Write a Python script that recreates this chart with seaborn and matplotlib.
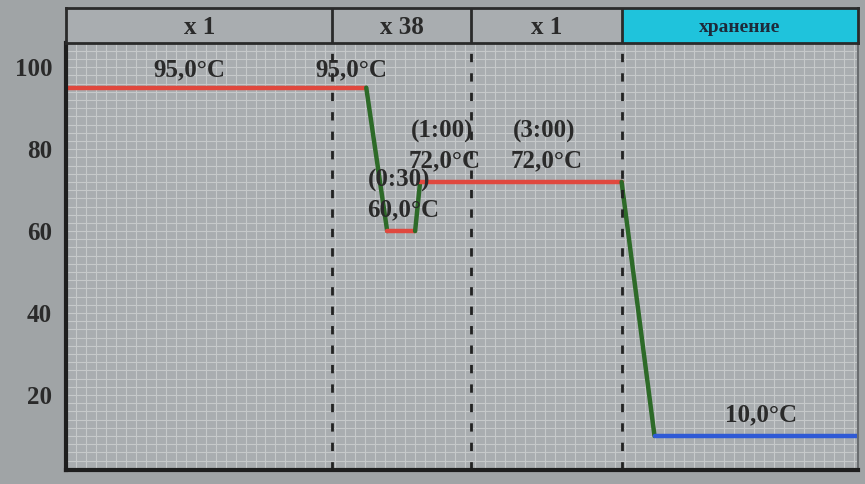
import pandas as pd
import matplotlib.pyplot as plt
import seaborn as sns
from matplotlib.ticker import MultipleLocator

# PCR program profile: x = position on the program timeline, y = temperature (°C)
seg_names = ["hold1", "ramp1", "hold2", "ramp2", "hold3", "ramp3", "hold4"]
seg_x = [[0, 301], [301, 322], [322, 350], [350, 355], [355, 557], [557, 590], [590, 794]]
seg_y = [[95, 95], [95, 60], [60, 60], [60, 72], [72, 72], [72, 10], [10, 10]]
seg_colors = ["#e0483e", "#2d6a28", "#e0483e", "#2d6a28", "#e0483e", "#2d6a28", "#2f5ad6"]

stage_edges = [0, 267, 406, 557, 794]
stage_labels = ["x 1", "x 38", "x 1", "хранение"]

temp_labels = ["95,0°C", "95,0°C", "60,0°C", "72,0°C", "72,0°C", "10,0°C"]
temp_x = [124, 286, 338, 380, 482, 697]
temp_y = [95, 95, 60, 72, 72, 10]
time_labels = ["(0:30)", "(1:00)", "(3:00)"]
time_x = [334, 377, 479]
time_y = [60, 72, 72]

yticks = [20, 40, 60, 80, 100]

rows = []
for name, xs, ys in zip(seg_names, seg_x, seg_y):
    for x, y in zip(xs, ys):
        rows.append({"seg": name, "x": x, "y": y})
df = pd.DataFrame(rows)

sns.set_style("white")
plt.rcParams["font.family"] = ["Liberation Serif", "DejaVu Serif"]
plt.rcParams["font.weight"] = "bold"

fig = plt.figure(figsize=(8.65, 4.84), dpi=100, facecolor="#a0a4a6")
left, width = 66 / 865, (858 - 66) / 865
ax = fig.add_axes([left, 1 - 470 / 484, width, (470 - 43) / 484])
axh = fig.add_axes([left, 1 - 43 / 484, width, 35 / 484])

ax.set_facecolor("#a9adb0")
sns.lineplot(data=df, x="x", y="y", hue="seg", palette=dict(zip(seg_names, seg_colors)),
             sort=False, estimator=None, legend=False, linewidth=3.2, ax=ax)

ax.set_xlim(0, 794)
ax.set_ylim(1.7, 105.9)
ax.xaxis.set_minor_locator(MultipleLocator(10))
ax.yaxis.set_minor_locator(MultipleLocator(2))
ax.grid(which="both", color="#c6c9ca", linewidth=0.8)
ax.set_axisbelow(True)
ax.set_xticks([])
ax.set_yticks(yticks)
ax.set_yticklabels([str(t) for t in yticks], fontsize=18, fontweight="bold", color="#2a2a2a")
ax.tick_params(axis="y", which="major", length=4, width=1, color="#555555", pad=6)
ax.tick_params(axis="y", which="minor", length=0)
ax.set_xlabel("")
ax.set_ylabel("")
for s in ["left", "bottom"]:
    ax.spines[s].set_linewidth(3)
    ax.spines[s].set_color("#1e1e1e")
ax.spines["right"].set_color("#6a6d70")
ax.spines["right"].set_linewidth(1.5)
ax.spines["top"].set_visible(False)

for e in stage_edges[1:-1]:
    ax.axvline(e, color="#222222", linestyle=(0, (3, 4)), linewidth=2)

for lab, x, y in zip(temp_labels, temp_x, temp_y):
    off = 4.3 if y == 95 else 5.2
    ax.text(x, y + off, lab, ha="center", va="center",
            fontsize=18, fontweight="bold", color="#2a2a2a")
for lab, x, y in zip(time_labels, time_x, time_y):
    ax.text(x, y + 12.4, lab, ha="center", va="center",
            fontsize=18, fontweight="bold", color="#2a2a2a")

# header row with stage repeat counts
axh.set_xlim(0, 794)
axh.set_ylim(0, 1)
axh.set_facecolor("#a9adb0")
axh.axvspan(stage_edges[3], stage_edges[4], color="#1fc3dc")
for e in stage_edges[1:-1]:
    axh.axvline(e, color="#2a2a2a", linewidth=2)
for i, lab in enumerate(stage_labels):
    cx = (stage_edges[i] + stage_edges[i + 1]) / 2
    fs = 14 if i == 3 else 18
    axh.text(cx, 0.45, lab, ha="center", va="center", fontsize=fs,
             fontweight="bold", color="#1e2a3a" if i == 3 else "#2a2a2a")
axh.set_xticks([])
axh.set_yticks([])
for s in axh.spines.values():
    s.set_color("#2a2a2a")
    s.set_linewidth(2)

fig.savefig("out.png", dpi=100, facecolor=fig.get_facecolor())
